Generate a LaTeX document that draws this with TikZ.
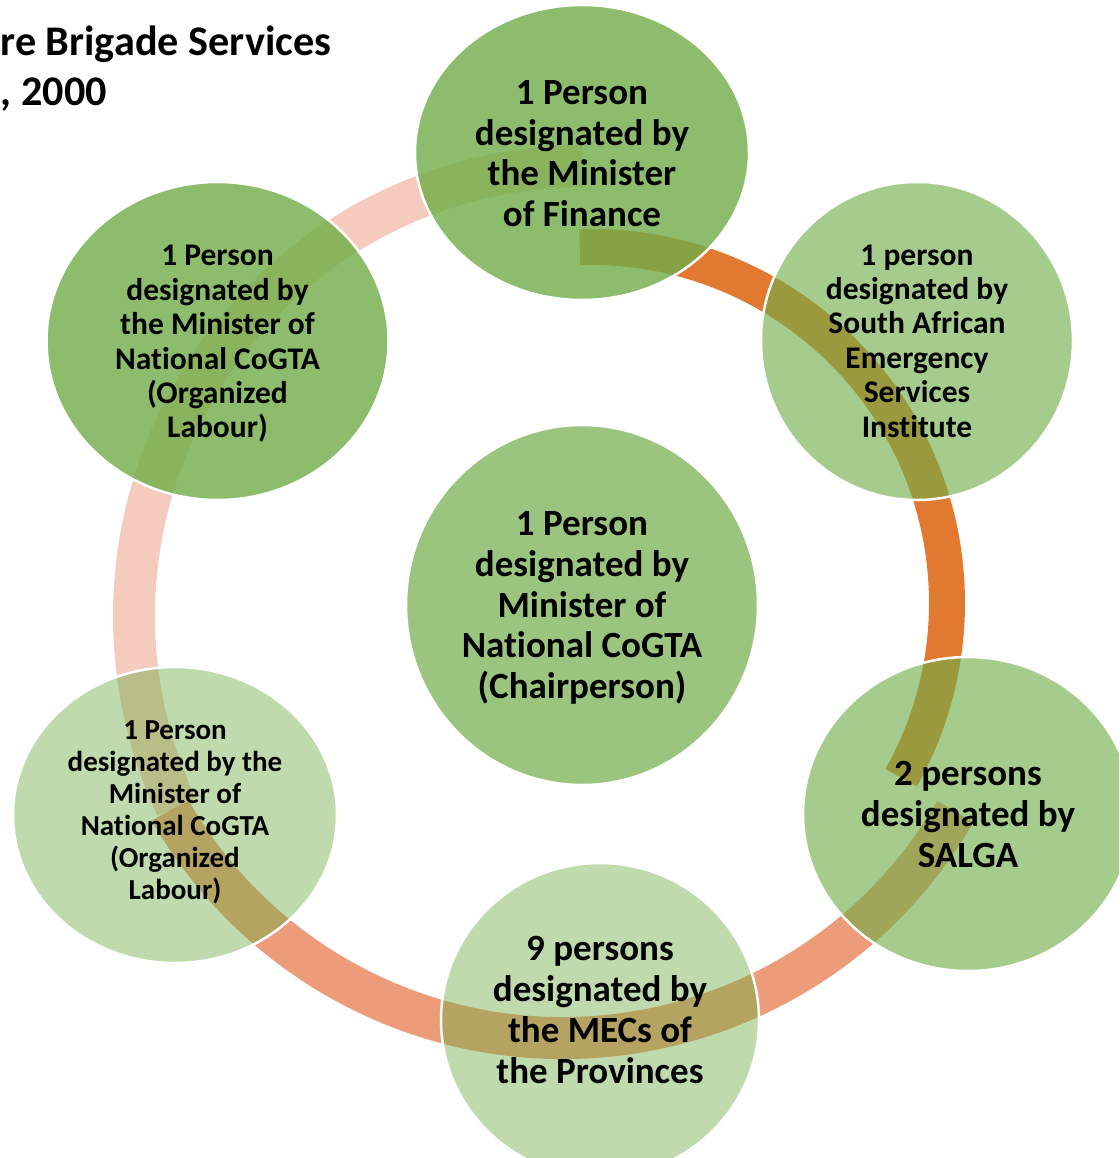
\documentclass[tikz,border=0pt]{standalone}
\usepackage{fontspec}
\setmainfont{Carlito}[Ligatures=NoCommon]
\usetikzlibrary{shapes.geometric}

\definecolor{discgreen}{HTML}{70AD47}
\definecolor{bandA}{HTML}{E27930}
\definecolor{bandB}{HTML}{EC9C78}
\definecolor{bandC}{HTML}{F5CBBE}

\tikzset{
  disc/.style={ellipse, inner sep=0pt, fill=discgreen, fill opacity=#1,
    draw=white, draw opacity=1, line width=2.5pt, text opacity=1},
  ringband/.style={line width=#1, line cap=butt},
  caption/.style={align=center, text=black, inner sep=0pt},
  bigtxt/.style={font=\fontsize{37}{40.7}\selectfont\bfseries},
  midtxt/.style={font=\fontsize{31.5}{34.4}\selectfont\bfseries},
  smalltxt/.style={font=\fontsize{29}{32}\selectfont\bfseries},
  headtxt/.style={inner sep=0pt, font=\fontsize{42.2}{51}\selectfont\bfseries},
}

\begin{document}
\begin{tikzpicture}[x=1pt,y=-1pt]
\useasboundingbox (0,0) rectangle (1119,1158);
\clip (0,0) rectangle (1119,1158);

% centres of the three ring segments
\coordinate (ca) at (591,603);
\coordinate (cb) at (563,585);
\coordinate (cc) at (584,616);

% ring segments, drawn beneath the discs
\draw[ringband=36pt, bandA] (ca) ++(-91.8:356) arc[start angle=-91.8, end angle=29.4, radius=356];
\draw[ringband=42pt, bandB] (cb) ++(30:453) arc[start angle=30, end angle=150.2, radius=453];
\draw[ringband=42pt, bandC] (cc) ++(154.9:450) arc[start angle=154.9, end angle=269.8, radius=450];

% discs
\node[disc=0.8,  minimum width=334pt, minimum height=295pt] (finance) at (582,152.5) {};
\node[disc=0.8,  minimum width=342pt, minimum height=318pt] (labourA) at (217.5,341) {};
\node[disc=0.62, minimum width=312pt, minimum height=318pt] (saesi)   at (917,341) {};
\node[disc=0.7,  minimum width=352pt, minimum height=360pt] (chair)   at (582,605) {};
\node[disc=0.62, minimum width=330pt, minimum height=314pt] (salga)   at (968,814) {};
\node[disc=0.45, minimum width=318pt, minimum height=314pt] (mecs)    at (600,1020) {};
\node[disc=0.45, minimum width=324pt, minimum height=296pt] (labourB) at (175,815) {};

% captions
\node[caption, bigtxt] (financeT) at (582,153.5) {1 Person\\designated by\\the Minister\\of Finance};
\node[caption, midtxt] (labourAT) at (217.5,344) {1 Person\\designated by\\the Minister of\\National CoGTA\\(Organized\\Labour)};
\node[caption, midtxt] (saesiT) at (917,341) {1 person\\designated by\\South African\\Emergency\\Services\\Institute};
\node[caption, bigtxt] (chairT) at (582,608) {1 Person\\designated by\\Minister of\\National CoGTA\\(Chairperson)};
\node[caption, bigtxt] (salgaT) at (968,814.5) {2 persons\\designated by\\SALGA};
\node[caption, bigtxt] (mecsT) at (600,1010) {9 persons\\designated by\\the MECs of\\the Provinces};
\node[caption, smalltxt] (labourBT) at (175,812.5) {1 Person\\designated by the\\Minister of\\National CoGTA\\(Organized\\Labour)};

% heading
\node[headtxt, anchor=base west] (head1) at (0.5,56) {re Brigade Services};
\node[headtxt, anchor=base east] (head2) at (107,106) {, 2000};
\end{tikzpicture}
\end{document}
